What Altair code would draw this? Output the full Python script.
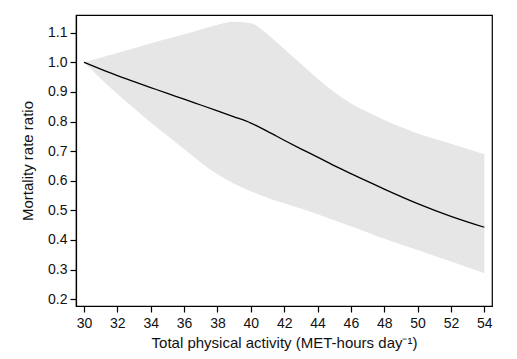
import altair as alt
import pandas as pd

# Data
activity = [30, 31, 32, 33, 34, 35, 36, 37, 38, 39, 40, 41, 42, 43, 44, 45, 46, 47, 48, 50, 52, 54]
estimate = [1.0, 0.977, 0.955, 0.935, 0.915, 0.895, 0.876, 0.856, 0.836, 0.816, 0.795, 0.767, 0.737,
            0.708, 0.68, 0.651, 0.624, 0.598, 0.572, 0.523, 0.48, 0.443]
upper = [1.0, 1.016, 1.032, 1.048, 1.064, 1.08, 1.095, 1.111, 1.127, 1.137, 1.132, 1.095, 1.045,
         0.995, 0.945, 0.9, 0.862, 0.832, 0.805, 0.76, 0.725, 0.69]
lower = [1.0, 0.945, 0.893, 0.845, 0.797, 0.752, 0.707, 0.662, 0.622, 0.59, 0.565, 0.543, 0.524,
         0.506, 0.487, 0.467, 0.446, 0.425, 0.404, 0.366, 0.327, 0.288]

x_ticks = [30, 32, 34, 36, 38, 40, 42, 44, 46, 48, 50, 52, 54]
y_ticks = [0.2, 0.3, 0.4, 0.5, 0.6, 0.7, 0.8, 0.9, 1.0, 1.1]

df = pd.DataFrame({"x": activity, "est": estimate, "lo": lower, "hi": upper})

FONT = "Liberation Sans"

xscale = alt.Scale(domain=[29.52, 54.46], nice=False, zero=False)
yscale = alt.Scale(domain=[0.177, 1.16], nice=False, zero=False)

xaxis = alt.Axis(values=x_ticks, title="Total physical activity (MET-hours day\u207b\u00b9)",
                 grid=False, labelFlush=False, labelOverlap=False)
yaxis = alt.Axis(values=y_ticks, format=".1f", title="Mortality rate ratio",
                 grid=False, labelOverlap=False)

band = alt.Chart(df).mark_area(color="#e6e6e6", interpolate="monotone", opacity=1).encode(
    x=alt.X("x:Q", scale=xscale, axis=xaxis),
    y=alt.Y("lo:Q", scale=yscale, axis=yaxis),
    y2="hi:Q",
)

line = alt.Chart(df).mark_line(color="black", strokeWidth=1.3, interpolate="monotone").encode(
    x=alt.X("x:Q", scale=xscale, axis=xaxis),
    y=alt.Y("est:Q", scale=yscale, axis=yaxis),
)

chart = (band + line).properties(
    width=416,
    height=291,
    autosize=alt.AutoSizeParams(type="none"),
    padding={"left": 68, "top": 7, "right": 17, "bottom": 45},
).configure_view(
    stroke="black", strokeWidth=1.2
).configure_axis(
    domainColor="black", domainWidth=1.2, tickColor="black", tickWidth=1.2, tickSize=6,
    labelFont=FONT, labelFontSize=14, labelColor="#111", labelOverlap=False,
    titleFont=FONT, titleFontSize=15, titleColor="#111", titleFontWeight="normal",
).configure_axisX(
    labelPadding=4, titlePadding=5
).configure_axisY(
    labelPadding=3, titlePadding=12
)

chart.save("out.html", embed_options={"renderer": "svg", "actions": False})
